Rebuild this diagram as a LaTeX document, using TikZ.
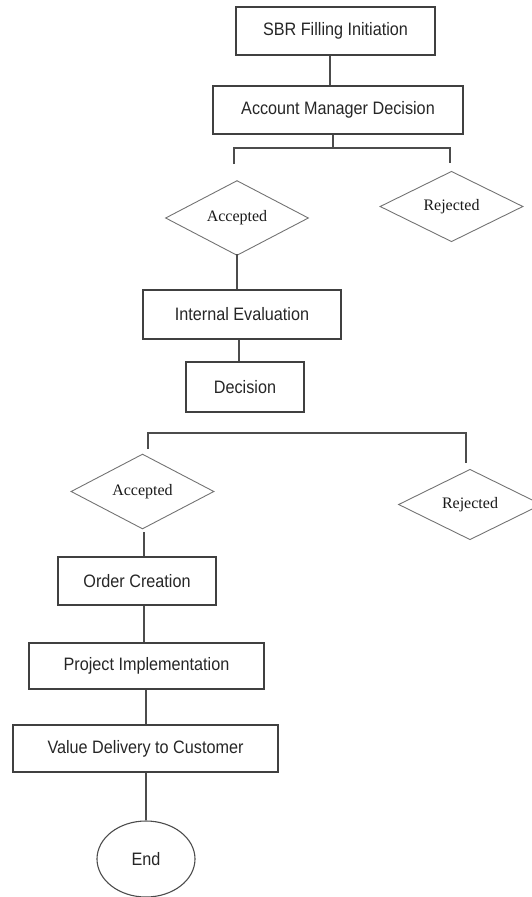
\documentclass[tikz,border=0pt]{standalone}
\usepackage{fontspec}
\setmainfont{Liberation Sans}[FakeStretch=0.9]
\newfontfamily\serifx{Liberation Serif}
\usetikzlibrary{shapes.geometric}
\begin{document}
\begin{tikzpicture}[x=1pt,y=-1pt,
 procbox/.style={draw=black!75, line width=1.1pt, rectangle, inner sep=0pt, font=\fontsize{18}{20}\selectfont, text=black!85},
 choice/.style={draw=black!55, line width=0.9pt, diamond, inner sep=0pt, minimum width=143pt, minimum height=70pt, font=\serifx\fontsize{16}{18}\selectfont, text=black!90},
 endnode/.style={draw=black!70, line width=1.1pt, ellipse, inner sep=0pt, minimum width=98pt, minimum height=76pt, font=\fontsize{18}{20}\selectfont, text=black!85},
 link/.style={draw=black!70, line width=1.1pt}]
\useasboundingbox (0,0) rectangle (531,897);
% boxes
\node[procbox, minimum width=199pt, minimum height=48pt] (sbr) at (335.5,31) {SBR Filling Initiation};
\node[procbox, minimum width=250pt, minimum height=48pt] (amd) at (338,110) {Account Manager Decision};
\node[choice] (acc1) at (237,218) {Accepted};
\node[choice] (rej1) at (451.5,206.5) {Rejected};
\node[procbox, minimum width=198pt, minimum height=49pt] (ie) at (242,314.5) {Internal Evaluation};
\node[procbox, minimum width=118pt, minimum height=50pt] (dec) at (245,387) {Decision};
\node[choice] (acc2) at (142.5,491.5) {Accepted};
\node[choice] (rej2) at (470,504.5) {Rejected};
\node[procbox, minimum width=158pt, minimum height=48pt] (oc) at (137,581) {Order Creation};
\node[procbox, minimum width=235pt, minimum height=46pt] (pi) at (146.5,666) {Project Implementation};
\node[procbox, minimum width=265pt, minimum height=47pt] (vd) at (145.5,748.5) {Value Delivery to Customer};
\node[endnode] (end) at (146,859) {End};
% junction coordinates
\coordinate (j1) at (333,148);
\coordinate (j1l) at (234,148);
\coordinate (j1r) at (450,148);
\coordinate (d1l) at (234,164);
\coordinate (d1r) at (450,163);
\coordinate (j2l) at (148,433);
\coordinate (j2r) at (466,433);
\coordinate (d2l) at (148,449);
\coordinate (d2r) at (466,463);
\coordinate (a1s) at (237,254);
\coordinate (a2s) at (144,532);
% connectors
\draw[link] ([xshift=-5.5pt]sbr.south) -- ([xshift=-8pt]amd.north);
\draw[link] ([xshift=-5pt]amd.south) -- (j1);
\draw[link] (d1l) -- (j1l) -- (j1r) -- (d1r);
\draw[link] (a1s) -- ([xshift=-5pt]ie.north);
\draw[link] ([xshift=-3pt]ie.south) -- ([xshift=-6pt]dec.north);
\draw[link] (d2l) -- (j2l) -- (j2r) -- (d2r);
\draw[link] (a2s) -- ([xshift=7pt]oc.north);
\draw[link] ([xshift=7pt]oc.south) -- ([xshift=-2.5pt]pi.north);
\draw[link] ([xshift=-0.5pt]pi.south) -- ([xshift=0.5pt]vd.north);
\draw[link] ([xshift=0.5pt]vd.south) -- (end.north);
\end{tikzpicture}
\end{document}
